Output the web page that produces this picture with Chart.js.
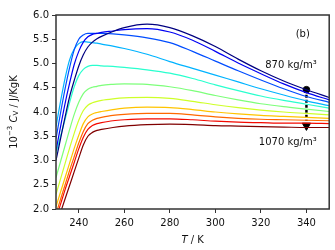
<!DOCTYPE html>
<html lang="en">
<head>
	<meta charset="utf-8">
	<title>Cv vs T</title>
	<script src="https://cdn.jsdelivr.net/npm/chart.js"></script>
	<style>
		body { margin: 0; background: #fff; }
	</style>
</head>
<body>
	<canvas id="cv" width="335" height="250"></canvas>
	<script>
		// temperature grid, K
		const temps = [230, 232, 234, 236, 238, 240, 242, 244, 246, 248, 250, 255, 260, 270, 280, 290, 300, 310, 320, 330, 340, 350]
		const densities = [870, 890, 910, 930, 950, 970, 990, 1010, 1030, 1050, 1070]
		const colors = ['#000080', '#0000f4', '#004dff', '#00b3ff', '#29ffce', '#7dff7a', '#ceff29', '#ffc400', '#ff6800', '#f40900', '#800000']

		// 10^-3 Cv per density
		const cv870 = [3.00, 3.45, 3.90, 4.32, 4.65, 4.95, 5.18, 5.34, 5.44, 5.51, 5.56, 5.66, 5.74, 5.81, 5.74, 5.57, 5.35, 5.09, 4.85, 4.64, 4.46, 4.30]
		const cv890 = [3.20, 3.70, 4.18, 4.60, 4.98, 5.25, 5.44, 5.55, 5.60, 5.62, 5.64, 5.67, 5.70, 5.72, 5.65, 5.48, 5.25, 5.01, 4.79, 4.58, 4.40, 4.25]
		const cv910 = [3.45, 3.98, 4.48, 4.92, 5.28, 5.50, 5.59, 5.62, 5.62, 5.62, 5.62, 5.61, 5.59, 5.53, 5.43, 5.25, 5.05, 4.85, 4.66, 4.48, 4.32, 4.20]
		const cv930 = [3.70, 4.22, 4.70, 5.08, 5.30, 5.41, 5.45, 5.44, 5.43, 5.42, 5.40, 5.36, 5.31, 5.19, 5.04, 4.90, 4.76, 4.62, 4.48, 4.35, 4.23, 4.13]
		const cv950 = [3.15, 3.50, 3.85, 4.20, 4.52, 4.75, 4.88, 4.94, 4.96, 4.96, 4.95, 4.94, 4.92, 4.87, 4.80, 4.69, 4.56, 4.44, 4.33, 4.24, 4.16, 4.08]
		const cv970 = [2.65, 2.98, 3.31, 3.64, 3.95, 4.20, 4.38, 4.47, 4.51, 4.53, 4.55, 4.57, 4.58, 4.57, 4.52, 4.44, 4.34, 4.25, 4.17, 4.11, 4.06, 4.01]
		const cv990 = [2.30, 2.62, 2.94, 3.26, 3.56, 3.83, 4.03, 4.14, 4.19, 4.22, 4.24, 4.27, 4.29, 4.30, 4.28, 4.22, 4.15, 4.09, 4.04, 4.00, 3.97, 3.94]
		const cv1010 = [2.05, 2.35, 2.65, 2.95, 3.25, 3.52, 3.76, 3.90, 3.96, 3.99, 4.01, 4.05, 4.08, 4.10, 4.09, 4.05, 4.00, 3.96, 3.93, 3.91, 3.89, 3.87]
		const cv1030 = [1.90, 2.20, 2.50, 2.80, 3.08, 3.36, 3.60, 3.76, 3.83, 3.87, 3.89, 3.93, 3.95, 3.97, 3.97, 3.94, 3.90, 3.87, 3.85, 3.84, 3.83, 3.82]
		const cv1050 = [1.80, 2.10, 2.40, 2.68, 2.96, 3.24, 3.48, 3.64, 3.72, 3.76, 3.78, 3.82, 3.84, 3.86, 3.86, 3.84, 3.81, 3.79, 3.78, 3.77, 3.77, 3.76]
		const cv1070 = [1.65, 1.93, 2.21, 2.49, 2.77, 3.05, 3.32, 3.50, 3.58, 3.62, 3.64, 3.68, 3.71, 3.74, 3.75, 3.74, 3.72, 3.71, 3.70, 3.69, 3.68, 3.68]
		const series = [cv870, cv890, cv910, cv930, cv950, cv970, cv990, cv1010, cv1030, cv1050, cv1070]

		// arrow marking the density direction at 340 K
		const arrowT = 340
		const arrowTop = 4.46
		const arrowEnd = 3.82
		const arrowTip = 3.72

		const xTicks = [240, 260, 280, 300, 320, 340]

		const font = "'DejaVu Sans', sans-serif"

		let datasets = series.map((s, i) => ({
			label: densities[i] + ' kg/m³',
			data: temps.map((t, j) => ({ x: t, y: s[j] })),
			borderColor: colors[i],
			borderWidth: 1.2,
			pointRadius: 0,
			cubicInterpolationMode: 'monotone',
			fill: false
		}))

		datasets.push({
			label: 'arrow',
			data: [{ x: arrowT, y: arrowTop }, { x: arrowT, y: arrowEnd }],
			borderColor: '#000',
			borderWidth: 2.5,
			borderDash: [3, 2],
			pointRadius: [3.3, 0],
			pointBorderWidth: 1,
			pointBackgroundColor: '#000',
			pointBorderColor: '#000'
		})
		datasets.push({
			label: 'head',
			data: [{ x: arrowT, y: arrowTip }],
			showLine: false,
			pointStyle: 'triangle',
			rotation: 180,
			pointRadius: 4.8,
			pointBackgroundColor: '#000',
			pointBorderColor: '#000',
			pointBorderWidth: 1
		})

		const labels = {
			id: 'labels',
			afterDraw(chart) {
				const ctx = chart.ctx
				const a = chart.chartArea
				const xs = chart.scales.x
				const ys = chart.scales.y
				ctx.save()
				// frame
				ctx.strokeStyle = '#333'
				ctx.lineWidth = 1.5
				ctx.strokeRect(a.left, a.top, a.right - a.left, a.bottom - a.top)

				ctx.fillStyle = '#111'
				ctx.textBaseline = 'middle'
				ctx.textAlign = 'center'
				ctx.font = '10px ' + font
				ctx.fillText('(b)', xs.getPixelForValue(338.4), ys.getPixelForValue(5.59))
				ctx.fillText('870 kg/m³', xs.getPixelForValue(333.2), ys.getPixelForValue(4.96))
				ctx.fillText('1070 kg/m³', xs.getPixelForValue(331.8), ys.getPixelForValue(3.38))

				// x title: T / K
				const xc = (a.left + a.right) / 2
				ctx.textAlign = 'left'
				ctx.font = 'italic 10px ' + font
				const wT = ctx.measureText('T').width
				ctx.font = '10px ' + font
				const wR = ctx.measureText(' / K').width
				let x0 = xc - (wT + wR) / 2
				ctx.font = 'italic 10px ' + font
				ctx.fillText('T', x0, 240)
				ctx.font = '10px ' + font
				ctx.fillText(' / K', x0 + wT, 240)

				// y title: 10^-3 C_V / J/KgK
				const parts = [
					['10', '10px', 0],
					['−3', '7px', -4],
					[' ', '10px', 0],
					['C', 'italic 10px', 0],
					['V', '7px', 2.5],
					[' / J/KgK', '10px', 0]
				]
				let total = 0
				parts.forEach(p => {
					ctx.font = p[1] + ' ' + font
					total += ctx.measureText(p[0]).width
				})
				ctx.translate(14, (a.top + a.bottom) / 2)
				ctx.rotate(-Math.PI / 2)
				let px = -total / 2
				parts.forEach(p => {
					ctx.font = p[1] + ' ' + font
					ctx.fillText(p[0], px, p[2])
					px += ctx.measureText(p[0]).width
				})
				ctx.restore()
			}
		}

		new Chart(document.getElementById('cv'), {
			type: 'line',
			data: { datasets: datasets },
			options: {
				responsive: false,
				animation: false,
				events: [],
				layout: { padding: { top: 15, right: 4, left: 0, bottom: 0 } },
				plugins: {
					legend: { display: false },
					tooltip: { enabled: false }
				},
				scales: {
					x: {
						type: 'linear',
						min: 230,
						max: 350,
						afterBuildTicks: s => { s.ticks = xTicks.map(v => ({ value: v })) },
						afterFit: s => { s.height = 41 },
						grid: { drawOnChartArea: false, tickLength: 4, color: '#333' },
						border: { display: false },
						ticks: { padding: 4, color: '#111', font: { size: 10, family: font }, maxRotation: 0 }
					},
					y: {
						min: 2,
						max: 6,
						afterFit: s => { s.width = 56 },
						grid: { drawOnChartArea: false, tickLength: 4, color: '#333' },
						border: { display: false },
						ticks: { stepSize: 0.5, padding: 3, color: '#111', font: { size: 10, family: font }, callback: v => v.toFixed(1) }
					}
				}
			},
			plugins: [labels]
		})
	</script>
</body>
</html>
